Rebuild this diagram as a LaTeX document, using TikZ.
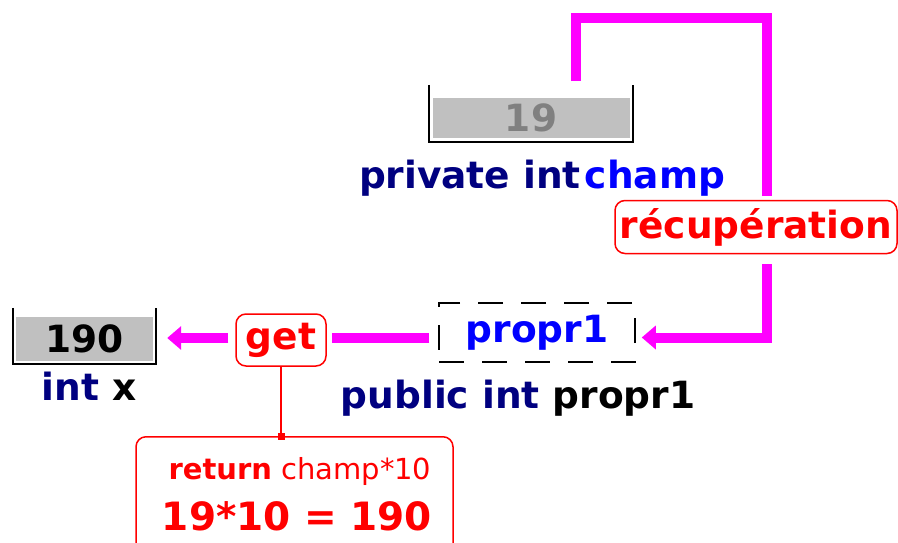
\documentclass[tikz,border=0pt]{standalone}
\usepackage{fontspec}
\setmainfont{DejaVu Sans}
\usetikzlibrary{arrows.meta,positioning}
\definecolor{linkMagenta}{RGB}{255, 0, 255}
\definecolor{inkNavy}{RGB}{0, 0, 128}
\definecolor{inkBlue}{RGB}{0, 0, 255}
\definecolor{inkRed}{RGB}{255, 0, 0}
\definecolor{cellGray}{RGB}{192, 192, 192}
\definecolor{digitGray}{RGB}{128, 128, 128}
\tikzset{
  bigtext/.style={font=\fontsize{37.5pt}{40pt}\selectfont\bfseries},
  cell/.style={fill=cellGray, inner sep=0pt, bigtext},
  bracket/.style={draw=black, line width=2pt},
  redbox/.style={draw=inkRed, line width=1.5pt, rounded corners=10pt, text=inkRed, inner sep=0pt},
  flow/.style={draw=linkMagenta, line width=10pt},
  flowtip/.style={-{Triangle[length=14pt,width=23pt]}},
}

\begin{document}
\begin{tikzpicture}[x=1pt,y=-1pt]
  \useasboundingbox (0,0) rectangle (898,542);

  % champ privé
  \node[cell, text=digitGray, minimum width=197pt, minimum height=40pt] (champval) at (531,118) {19};
  \draw[bracket] ([xshift=-3pt,yshift=13pt]champval.north west) -- ([xshift=-3pt,yshift=-4pt]champval.south west)
    -- ([xshift=3pt,yshift=-4pt]champval.south east) -- ([xshift=3pt,yshift=13pt]champval.north east);
  \node[bigtext, anchor=base, text=inkNavy] (champdecl) at (542,188) {private int\hspace{4pt}\textcolor{inkBlue}{champ}};

  \node[redbox, bigtext, minimum width=282pt, minimum height=53pt] (recup) at (756,227) {récupération};

  % propriété
  \node[draw, line width=1.5pt, dash pattern=on 25pt off 18pt, text=inkBlue, bigtext,
        minimum width=196pt, minimum height=59pt, inner sep=0pt] (propr) at (537,332.5) {propr1};
  \node[bigtext, anchor=base, text=inkNavy] (proprdecl) at (518,408) {public int \textcolor{black}{propr1}};

  \node[redbox, bigtext, minimum width=90pt, minimum height=52pt] (get) at (281,340) {get};

  % variable x
  \node[cell, minimum width=137pt, minimum height=44pt] (xval) at (84.5,339) {190};
  \draw[bracket] ([xshift=-3pt,yshift=9pt]xval.north west) -- ([xshift=-3pt,yshift=-3pt]xval.south west)
    -- ([xshift=3pt,yshift=-3pt]xval.south east) -- ([xshift=3pt,yshift=9pt]xval.north east);
  \node[bigtext, anchor=base, text=inkNavy] (xdecl) at (89,400) {int \textcolor{black}{x}};

  % calcul
  \node[redbox, minimum width=317pt, minimum height=130pt, anchor=north] (calc) at (294.5,436) {};
  \node[anchor=base, text=inkRed, font=\fontsize{29pt}{32pt}\selectfont] (calcret) at (300,479) {\textbf{return} champ*10};
  \node[anchor=base, text=inkRed, font=\fontsize{39pt}{42pt}\selectfont\bfseries] (calcres) at (297,530) {19*10 = 190};

  % flux
  \coordinate (pull) at (576,81);
  \draw[flow, shorten >=4pt] (pull) -- ++(0,-63) -| ([xshift=11pt]recup.north);
  \draw[flow, flowtip, shorten >=6pt] ([xshift=11pt,yshift=-10pt]recup.south) |- ([yshift=-5pt]propr.east);
  \draw[flow, shorten <=9pt, shorten >=5pt] ([yshift=-5pt]propr.west) -- ([yshift=-5pt]propr.west -| get.east);
  \draw[flow, flowtip, shorten <=7pt, shorten >=14pt] ([yshift=2pt]get.west) -- ([yshift=2pt]get.west -| xval.east);

  \draw[inkRed, line width=1.5pt] (get.south) -- (get.south |- calc.north);
  \node[fill=inkRed, minimum size=7pt, inner sep=0pt] (joint) at (get.south |- calc.north) {};
\end{tikzpicture}
\end{document}
